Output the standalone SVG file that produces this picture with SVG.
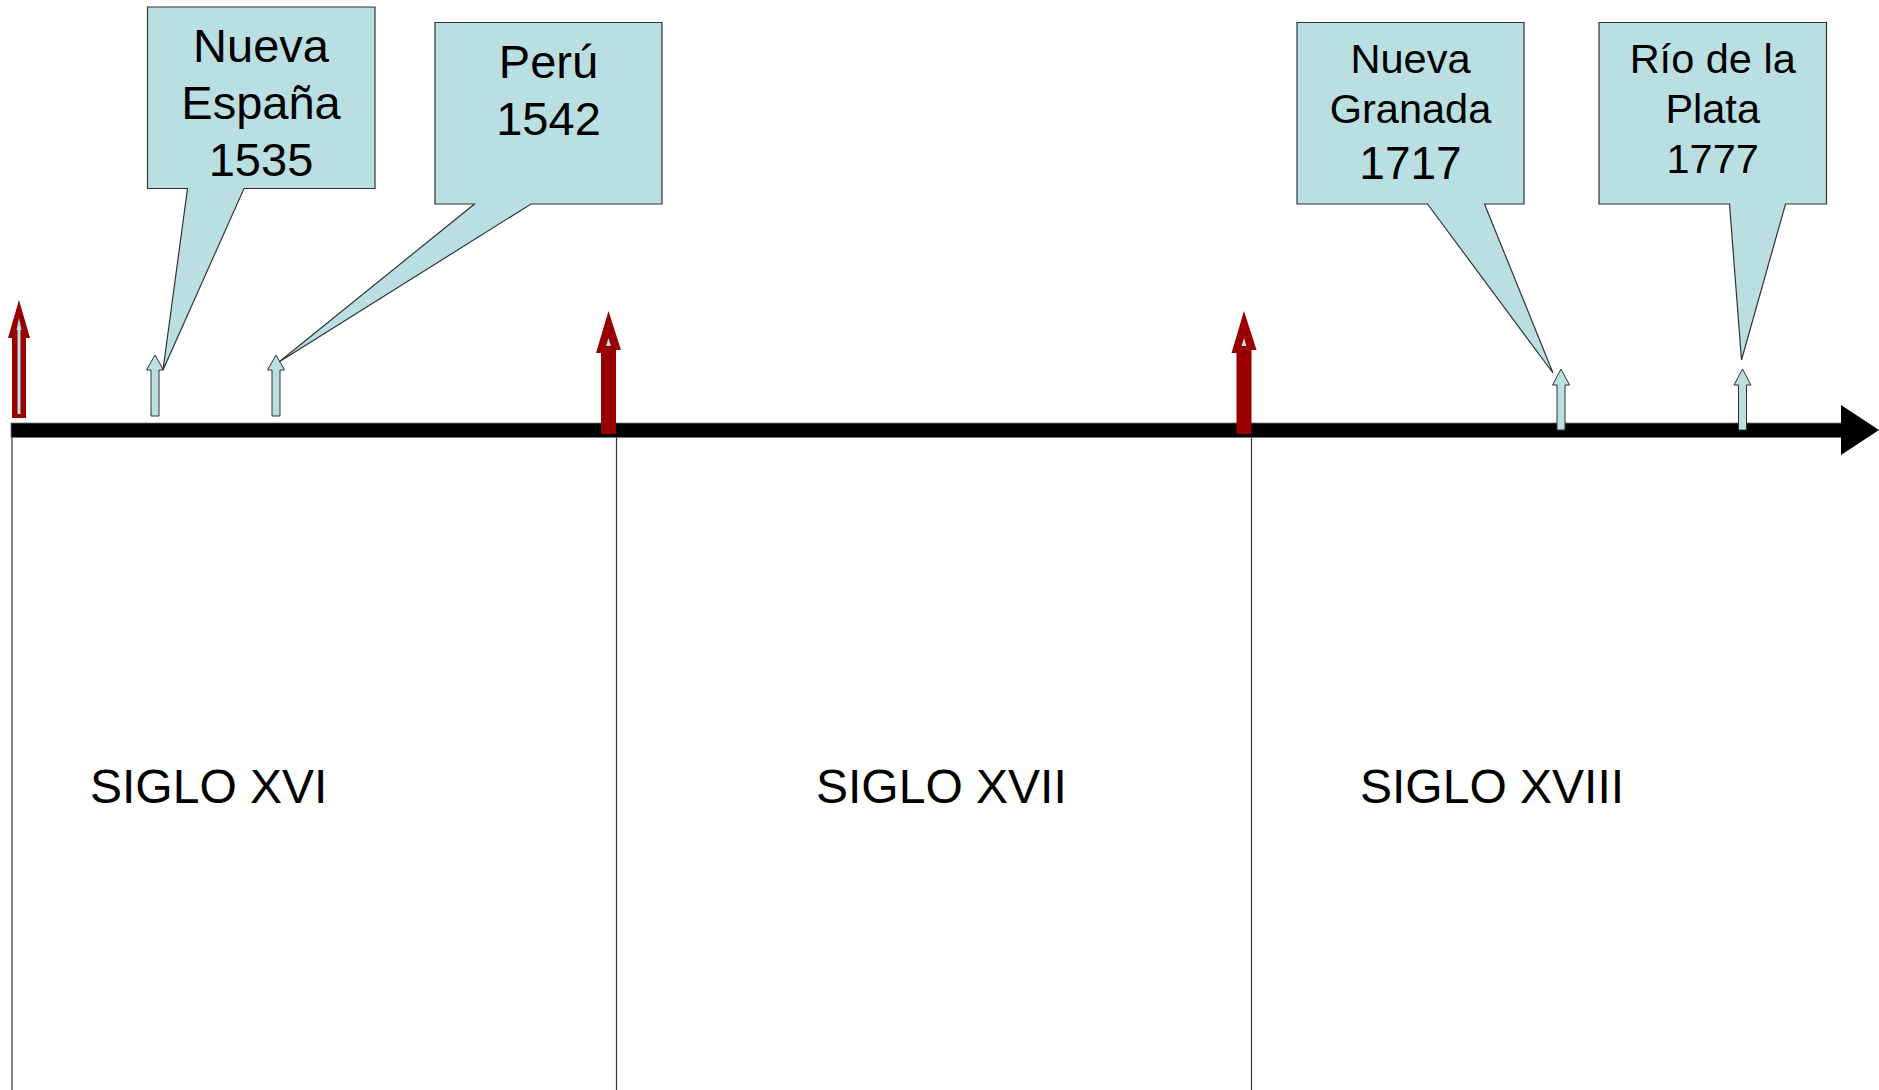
<svg xmlns="http://www.w3.org/2000/svg" width="1879" height="1090" viewBox="0 0 1879 1090">
<style>
.callout{fill:#badfe3;stroke:#333;stroke-width:1.2}
.small{fill:#badfe3;stroke:#333;stroke-width:1}
.big{fill:#990000}
.t{font-family:"Liberation Sans",Arial,sans-serif;fill:#000;text-anchor:middle}
.s{font-family:"Liberation Sans",Arial,sans-serif;fill:#000;font-size:48px}
.div{stroke:#333;stroke-width:1.2}
</style>
<rect width="1879" height="1090" fill="#fff"/>
<g id="connectors">
<line class="div" x1="12" y1="437" x2="12" y2="1090"/>
<line class="div" x1="616.5" y1="437" x2="616.5" y2="1090"/>
<line class="div" x1="1251.5" y1="437" x2="1251.5" y2="1090"/>
<rect x="11" y="423" width="1832" height="14.5" fill="#000" stroke="#777" stroke-width="0.8"/>
<polygon points="1841,405 1879,430 1841,455" fill="#000"/>
</g>
<g id="arrow-start">
<polygon class="big" points="19,300 30,338 26,338 26,418 12,418 12,338 8,338"/>
<polygon points="19,318 21.5,330 20.5,330 20.5,414 17.5,414 17.5,330 16.5,330" fill="#badfe3"/>
</g>
<g id="arrow-1600">
<polygon class="big" points="608.5,311 621,350 616,350 616,434 601,434 601,353 596,353"/>
<polygon points="608.5,338 611,346 606,346" fill="#badfe3"/>
</g>
<g id="arrow-1700">
<polygon class="big" points="1244,311 1256.5,350 1251.5,350 1251.5,434 1236.5,434 1236.5,353 1231.5,353"/>
<polygon points="1244,338 1246.5,346 1241.5,346" fill="#badfe3"/>
</g>
<g id="arrow-1535"><polygon class="small" points="155,355 163.5,370 159,370 159,416 151,416 151,370 146.5,370"/></g>
<g id="arrow-1542"><polygon class="small" points="276,355 284.5,370 280,370 280,416 272,416 272,370 267.5,370"/></g>
<g id="arrow-1717"><polygon class="small" points="1561,369 1569.5,385 1565,385 1565,430 1557,430 1557,385 1552.5,385"/></g>
<g id="arrow-1777"><polygon class="small" points="1742.5,369 1751,385 1746.5,385 1746.5,430 1738.5,430 1738.5,385 1734,385"/></g>
<g id="nueva-espana">
<path class="callout" d="M147.5,7 H375 V188.5 H244 L163,370 L187.5,188.5 H147.5 Z"/>
<text class="t" x="261" y="62" font-size="47">Nueva</text>
<text class="t" x="261" y="118.5" font-size="47">España</text>
<text class="t" x="261" y="176" font-size="47">1535</text>
</g>
<g id="peru">
<path class="callout" d="M435,22.5 H662 V204 H531 L279,362 L474.5,204 H435 Z"/>
<text class="t" x="548.5" y="78" font-size="47">Perú</text>
<text class="t" x="548.5" y="134.5" font-size="47">1542</text>
</g>
<g id="nueva-granada">
<path class="callout" d="M1297,22.5 H1524 V204 H1484.5 L1553,373 L1427.5,204 H1297 Z"/>
<text class="t" x="1410.5" y="73" font-size="41.5">Nueva</text>
<text class="t" x="1410.5" y="123" font-size="41.5">Granada</text>
<text class="t" x="1410.5" y="178.5" font-size="46">1717</text>
</g>
<g id="rio-de-la-plata">
<path class="callout" d="M1599,22.5 H1826.5 V204 H1785.5 L1741.5,360 L1729.5,204 H1599 Z"/>
<text class="t" x="1712.7" y="73" font-size="41.5">Río de la</text>
<text class="t" x="1712.7" y="123" font-size="41.5">Plata</text>
<text class="t" x="1712.7" y="173" font-size="41.5">1777</text>
</g>
<g id="siglos">
<text class="s" x="90" y="803">SIGLO XVI</text>
<text class="s" x="816" y="803">SIGLO XVII</text>
<text class="s" x="1360" y="803">SIGLO XVIII</text>
</g>
</svg>
